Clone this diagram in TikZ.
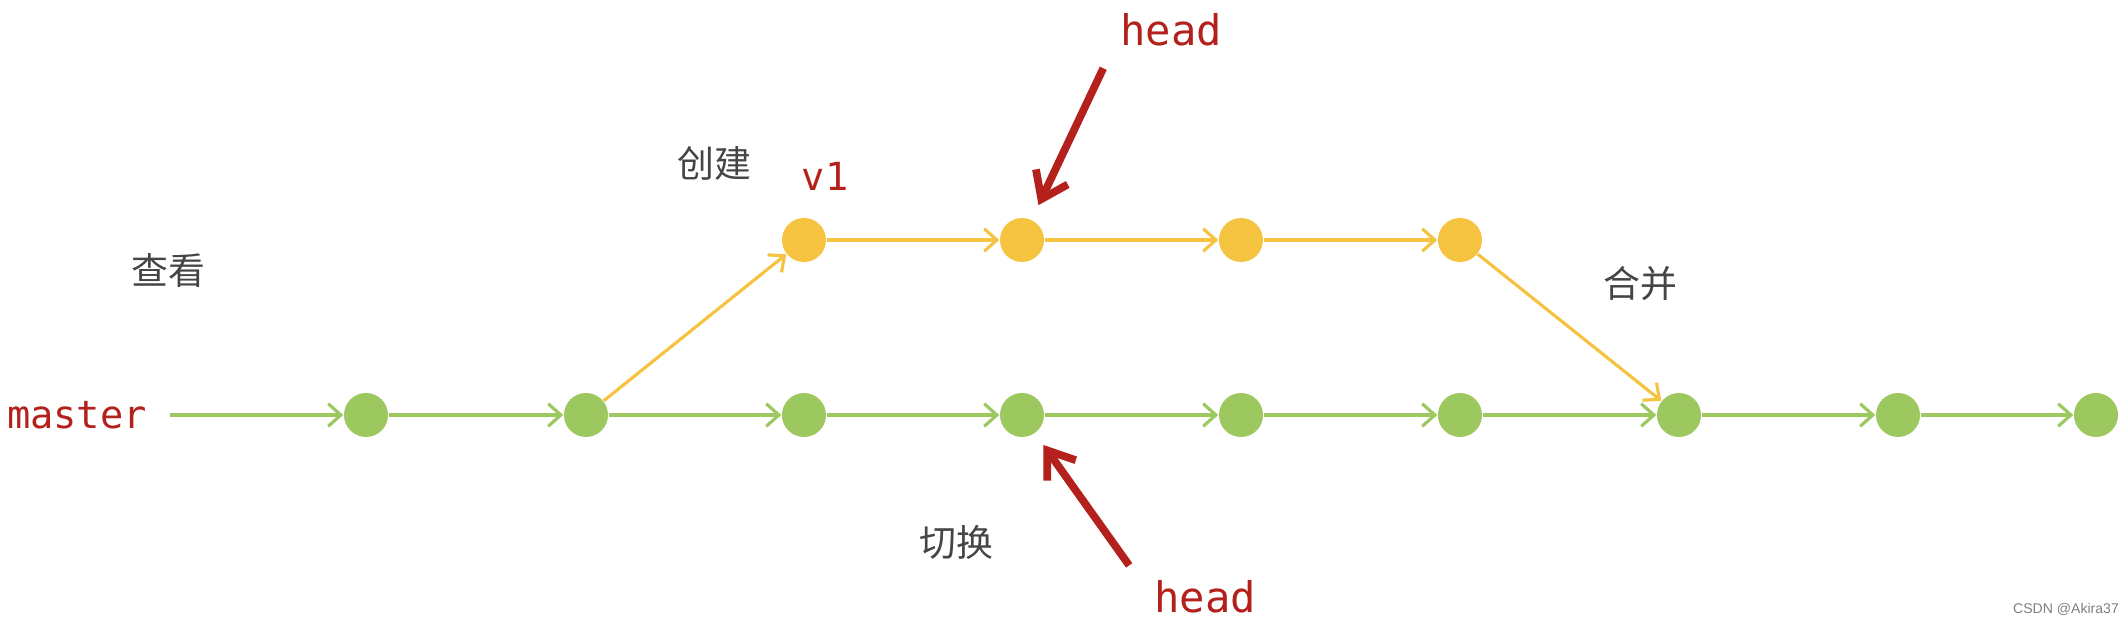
\documentclass[tikz,border=0pt]{standalone}
\usepackage{fontspec}
\setmonofont{DejaVu Sans Mono}
\newfontfamily\cjk{Noto Sans CJK SC}
\newfontfamily\marksans{Liberation Sans}
\usetikzlibrary{arrows.meta}
\definecolor{commitgreen}{HTML}{9DC75F}
\definecolor{commityellow}{HTML}{F5C340}
\definecolor{headred}{HTML}{B4211D}
\definecolor{labelgray}{HTML}{454545}
\begin{document}
\begin{tikzpicture}[x=0.01cm, y=-0.01cm]
    \tikzstyle{green_commit}=[circle, fill=commitgreen, minimum size=0.44cm, inner sep=0pt]
    \tikzstyle{yellow_commit}=[circle, fill=commityellow, minimum size=0.44cm, inner sep=0pt]
    \tikzstyle{green_line}=[color=commitgreen, line width=0.9pt, -{Straight Barb[length=3.6pt, width=6.4pt]}]
    \tikzstyle{yellow_line}=[color=commityellow, line width=0.9pt, -{Straight Barb[length=3.6pt, width=6.4pt]}]
    \tikzstyle{head_arrow}=[color=headred, line width=2.2pt, -{Straight Barb[length=7pt, width=10pt]}]
    \tikzstyle{ref_label}=[text=headred, font=\ttfamily\fontsize{11}{13}\selectfont]
    \tikzstyle{cn_label}=[text=labelgray, font=\cjk\fontsize{10.5}{12}\selectfont]

    \useasboundingbox (0,0) rectangle (2126,624);

    % master branch
    \node at (77, 415) [ref_label] (master) {master};
    \foreach \i/\x in {1/366, 2/586, 3/804, 4/1022, 5/1241, 6/1460, 7/1679, 8/1898, 9/2096}
      \node at (\x, 415) [green_commit] (g_\i) {};

    % branch v1
    \node at (825, 176) [ref_label] (v1) {v1};
    \foreach \i/\x in {1/804, 2/1022, 3/1241, 4/1460}
      \node at (\x, 240) [yellow_commit] (y_\i) {};

    % head pointers
    \node at (1171, 30) [ref_label, font=\ttfamily\fontsize{12}{14}\selectfont] (head_top) {head};
    \node at (1205, 597) [ref_label, font=\ttfamily\fontsize{12}{14}\selectfont] (head_bottom) {head};

    % commands
    \node at (168, 270) [cn_label] (look) {查看};
    \node at (714, 163) [cn_label] (create) {创建};
    \node at (1640, 284) [cn_label] (merge) {合并};
    \node at (956, 542) [cn_label] (switch) {切换};

    % watermark
    \node at (2066, 609) [text=gray, font=\marksans\fontsize{4}{5}\selectfont] (mark) {CSDN @Akira37};

    % connect: master -> g_1
    \path[green_line, shorten <=3pt] (master) edge (g_1);

    % connect: green commits
    \foreach \i/\j in {1/2, 2/3, 3/4, 4/5, 5/6, 6/7, 7/8, 8/9}
      \path[green_line] (g_\i) edge (g_\j);

    % connect: yellow commits
    \path[yellow_line] (g_2) edge (y_1);
    \foreach \i/\j in {1/2, 2/3, 3/4}
      \path[yellow_line] (y_\i) edge (y_\j);
    \path[yellow_line] (y_4) edge (g_7);

    % connect: head -> commit
    \path[head_arrow, shorten <=3pt, shorten >=4.5pt] (head_top.south west) edge (y_2);
    \path[head_arrow, shorten <=1pt, shorten >=4pt] ([xshift=-3pt]head_bottom.north west) edge (g_4);

\end{tikzpicture}
\end{document}
